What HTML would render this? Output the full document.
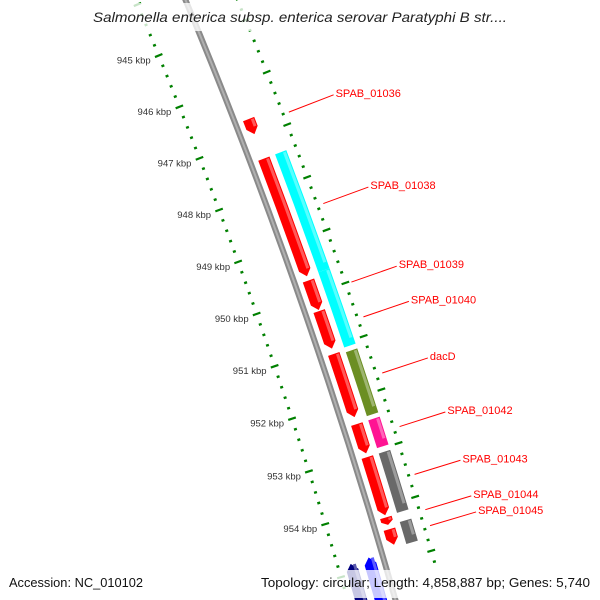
<!DOCTYPE html>
<html><head><meta charset="utf-8"><style>
html,body{margin:0;padding:0;background:#fff;}
svg{display:block;font-family:"Liberation Sans","DejaVu Sans",sans-serif;}
</style></head><body>
<svg id="map" width="600" height="600" viewBox="0 0 600 600" xmlns="http://www.w3.org/2000/svg">
<g id="rulers"></g>
<g id="backbone"></g>
<g id="features"></g>
<g id="labels"></g>
<rect x="88" y="3" width="424" height="28" fill="#fff" opacity="0.78"/>
<text x="300" y="22" text-anchor="middle" font-size="14" font-style="italic" fill="#222" textLength="414" lengthAdjust="spacingAndGlyphs">Salmonella enterica subsp. enterica serovar Paratyphi B str....</text>
<rect x="4" y="570" width="150" height="28" fill="#fff" opacity="0.78"/>
<text x="9" y="587" font-size="13" fill="#111" textLength="134" lengthAdjust="spacingAndGlyphs">Accession: NC_010102</text>
<rect x="255" y="570" width="342" height="28" fill="#fff" opacity="0.78"/>
<text x="590" y="587" font-size="13" fill="#111" text-anchor="end" textLength="329" lengthAdjust="spacingAndGlyphs">Topology: circular; Length: 4,858,887 bp; Genes: 5,740</text>
</svg>
<script>
// data
const rulerStart = 943.8;
const rulerEnd = 955.2;
const majorTicks = [945, 946, 947, 948, 949, 950, 951, 952, 953, 954];
const tickLabels = ["945 kbp","946 kbp","947 kbp","948 kbp","949 kbp","950 kbp","951 kbp","952 kbp","953 kbp","954 kbp"];
const featureStarts = [946.66, 947.42, 949.74, 950.32, 951.13, 952.45, 953.07, 954.20, 954.42, 947.42, 949.66, 951.17, 952.45, 953.07, 954.35, 954.82, 954.80];
const featureEnds   = [946.95, 949.66, 950.30, 951.03, 952.32, 953.00, 954.16, 954.34, 954.71, 949.66, 951.08, 952.37, 952.97, 954.18, 954.76, 956.0, 956.0];
const featureTracks = ["fwd","fwd","fwd","fwd","fwd","fwd","fwd","fwd","fwd","cog","cog","cog","cog","cog","cog","rev2","rev1"];
const featureColors = ["#ff0000","#ff0000","#ff0000","#ff0000","#ff0000","#ff0000","#ff0000","#ff0000","#ff0000","#00ffff","#00ffff","#6b8e23","#ff1493","#696969","#696969","#000080","#0000ff"];
const featureLabels = ["SPAB_01036","SPAB_01038","SPAB_01039","SPAB_01040","dacD","SPAB_01042","SPAB_01043","SPAB_01044","SPAB_01045","","","","","","","",""];

const CX=-4756, CY=2066, T0=-0.3883, TK=0.01041;
function ang(k){return T0+TK*(k-945);}
function pt(r,k){const a=ang(k);return [CX+r*Math.cos(a),CY+r*Math.sin(a)];}
const NS="http://www.w3.org/2000/svg";
function mk(tag,parent,attrs){const e=document.createElementNS(NS,tag);for(const k in attrs)e.setAttribute(k,attrs[k]);parent.appendChild(e);return e;}
function arcPath(r1,r2,a,b){
  const p1=pt(r1,a),p2=pt(r1,b),p3=pt(r2,b),p4=pt(r2,a);
  return `M${p1} A${r1} ${r1} 0 0 1 ${p2} L${p3} A${r2} ${r2} 0 0 0 ${p4} Z`;
}
const rulers=document.getElementById('rulers');
[5310,5404].forEach((R,ri)=>{
  for(let i=Math.ceil(rulerStart*5);i<=rulerEnd*5;i++){
    const k=i/5; const major=(i%5===0);
    const h=major?4:1.5;
    const a=pt(R-h,k), b=pt(R+h,k);
    const l=mk('line',rulers,{x1:a[0],y1:a[1],x2:b[0],y2:b[1],stroke:'#008000','stroke-width':major?2.2:2.4});
    
    
  }
});
majorTicks.forEach((k,i)=>{
  const p=pt(5310,k);
  const t=mk('text',rulers,{x:p[0]-8,y:p[1]+8,'text-anchor':'end','font-size':'9.5',fill:'#333'});
  t.textContent=tickLabels[i];
  
  
});
const bb=document.getElementById('backbone');
const bp=mk('path',bb,{d:arcPath(5353,5359,rulerStart-1,rulerEnd+1),fill:'#8a8a8a'});


const bh=mk('path',bb,{d:arcPath(5355,5357,rulerStart-1,rulerEnd+1),fill:'#b0b0b0'});



const trackR={fwd:[5364,5376,1],cog:[5382,5394,0],rev1:[5336,5348,-1],rev2:[5317,5329,-1]};
function lighten(c){const n=parseInt(c.slice(1),16);let r=n>>16,g=(n>>8)&255,b=n&255;r=Math.min(255,r+(255-r)*0.35);g=Math.min(255,g+(255-g)*0.35);b=Math.min(255,b+(255-b)*0.35);return `rgb(${r|0},${g|0},${b|0})`;}
const fg=document.getElementById('features');
const lg=document.getElementById('labels');
featureStarts.forEach((s,i)=>{
  const e=featureEnds[i]; const [r1,r2,dir]=trackR[featureTracks[i]];
  const col=featureColors[i]; const rm=(r1+r2)/2; const ah=Math.min(0.12,(e-s)*0.5);
  let d;
  if(dir===1){
    const a1=pt(r1,s),a2=pt(r1,e-ah),tip=pt(rm,e),b2=pt(r2,e-ah),b1=pt(r2,s);
    d=`M${a1} A${r1} ${r1} 0 0 1 ${a2} L${tip} L${b2} A${r2} ${r2} 0 0 0 ${b1} Z`;
  } else if(dir===-1){
    const tip=pt(rm,s),a1=pt(r1,s+ah),a2=pt(r1,e),b2=pt(r2,e),b1=pt(r2,s+ah);
    d=`M${tip} L${a1} A${r1} ${r1} 0 0 1 ${a2} L${b2} A${r2} ${r2} 0 0 0 ${b1} Z`;
  } else d=arcPath(r1,r2,s,e);
  const p=mk('path',fg,{d:d,fill:col});
  
  
  const h=mk('path',fg,{d:arcPath(r2-4,r2-1,s+0.02,e-ah-0.01),fill:lighten(col)});
  
  
  if(featureLabels[i]){
    const m=(s+e)/2; const a=pt(5410,m), b=pt(5458,m);
    const l=mk('line',lg,{x1:a[0],y1:a[1],x2:b[0],y2:b[1],stroke:'#ff0000','stroke-width':1});
    
    
    const t=mk('text',lg,{x:b[0]+2,y:b[1]+2,'font-size':'11',fill:'#ff0000'});
    t.textContent=featureLabels[i];
    
    
  }
});
</script>
</body></html>
